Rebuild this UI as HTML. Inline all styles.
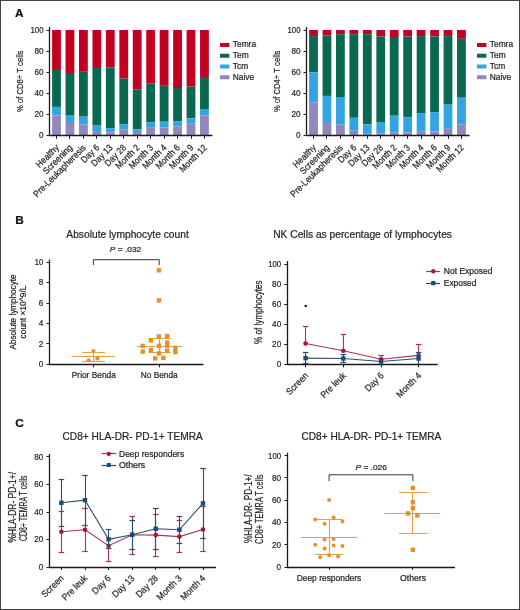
<!DOCTYPE html>
<html><head><meta charset="utf-8"><style>
html,body{margin:0;padding:0;background:#fff;}
svg{display:block;font-family:"Liberation Sans", sans-serif;will-change:transform;}
text{stroke:#262626;stroke-width:0.22px;paint-order:stroke;}
</style></head><body>
<svg width="520" height="610" viewBox="0 0 520 610">
<rect x="0" y="0" width="520" height="610" fill="#fff"/>
<text x="15" y="16.9" font-size="11.8" text-anchor="start" fill="#111" font-weight="bold" >A</text>
<text x="15.3" y="224.3" font-size="11.8" text-anchor="start" fill="#111" font-weight="bold" >B</text>
<text x="15.3" y="427" font-size="11.8" text-anchor="start" fill="#111" font-weight="bold" >C</text>
<rect x="52.10" y="30.00" width="8.80" height="40.00" fill="#c10022"/>
<rect x="52.10" y="70.00" width="8.80" height="36.90" fill="#0a6850"/>
<rect x="52.10" y="106.90" width="8.80" height="8.60" fill="#32a5e1"/>
<rect x="52.10" y="115.50" width="8.80" height="19.80" fill="#9187be"/>
<rect x="65.55" y="30.00" width="8.80" height="43.00" fill="#c10022"/>
<rect x="65.55" y="73.00" width="8.80" height="42.00" fill="#0a6850"/>
<rect x="65.55" y="115.00" width="8.80" height="7.00" fill="#32a5e1"/>
<rect x="65.55" y="122.00" width="8.80" height="13.30" fill="#9187be"/>
<rect x="79.00" y="30.00" width="8.80" height="41.75" fill="#c10022"/>
<rect x="79.00" y="71.75" width="8.80" height="44.95" fill="#0a6850"/>
<rect x="79.00" y="116.70" width="8.80" height="7.80" fill="#32a5e1"/>
<rect x="79.00" y="124.50" width="8.80" height="10.80" fill="#9187be"/>
<rect x="92.45" y="30.00" width="8.80" height="38.00" fill="#c10022"/>
<rect x="92.45" y="68.00" width="8.80" height="57.60" fill="#0a6850"/>
<rect x="92.45" y="125.60" width="8.80" height="5.40" fill="#32a5e1"/>
<rect x="92.45" y="131.00" width="8.80" height="4.30" fill="#9187be"/>
<rect x="105.90" y="30.00" width="8.80" height="37.50" fill="#c10022"/>
<rect x="105.90" y="67.50" width="8.80" height="60.60" fill="#0a6850"/>
<rect x="105.90" y="128.10" width="8.80" height="4.40" fill="#32a5e1"/>
<rect x="105.90" y="132.50" width="8.80" height="2.80" fill="#9187be"/>
<rect x="119.35" y="30.00" width="8.80" height="48.50" fill="#c10022"/>
<rect x="119.35" y="78.50" width="8.80" height="45.70" fill="#0a6850"/>
<rect x="119.35" y="124.20" width="8.80" height="5.50" fill="#32a5e1"/>
<rect x="119.35" y="129.70" width="8.80" height="5.60" fill="#9187be"/>
<rect x="132.80" y="30.00" width="8.80" height="59.60" fill="#c10022"/>
<rect x="132.80" y="89.60" width="8.80" height="39.80" fill="#0a6850"/>
<rect x="132.80" y="129.40" width="8.80" height="2.60" fill="#32a5e1"/>
<rect x="132.80" y="132.00" width="8.80" height="3.30" fill="#9187be"/>
<rect x="146.25" y="30.00" width="8.80" height="53.60" fill="#c10022"/>
<rect x="146.25" y="83.60" width="8.80" height="38.90" fill="#0a6850"/>
<rect x="146.25" y="122.50" width="8.80" height="5.30" fill="#32a5e1"/>
<rect x="146.25" y="127.80" width="8.80" height="7.50" fill="#9187be"/>
<rect x="159.70" y="30.00" width="8.80" height="55.80" fill="#c10022"/>
<rect x="159.70" y="85.80" width="8.80" height="35.90" fill="#0a6850"/>
<rect x="159.70" y="121.70" width="8.80" height="5.80" fill="#32a5e1"/>
<rect x="159.70" y="127.50" width="8.80" height="7.80" fill="#9187be"/>
<rect x="173.15" y="30.00" width="8.80" height="58.00" fill="#c10022"/>
<rect x="173.15" y="88.00" width="8.80" height="33.20" fill="#0a6850"/>
<rect x="173.15" y="121.20" width="8.80" height="5.30" fill="#32a5e1"/>
<rect x="173.15" y="126.50" width="8.80" height="8.80" fill="#9187be"/>
<rect x="186.60" y="30.00" width="8.80" height="56.50" fill="#c10022"/>
<rect x="186.60" y="86.50" width="8.80" height="31.80" fill="#0a6850"/>
<rect x="186.60" y="118.30" width="8.80" height="5.40" fill="#32a5e1"/>
<rect x="186.60" y="123.70" width="8.80" height="11.60" fill="#9187be"/>
<rect x="200.05" y="30.00" width="8.80" height="47.00" fill="#c10022"/>
<rect x="200.05" y="77.00" width="8.80" height="32.00" fill="#0a6850"/>
<rect x="200.05" y="109.00" width="8.80" height="6.50" fill="#32a5e1"/>
<rect x="200.05" y="115.50" width="8.80" height="19.80" fill="#9187be"/>
<line x1="49.5" y1="27.0" x2="49.5" y2="136" stroke="#1a1a1a" stroke-width="1.3"/>
<line x1="49.0" y1="135.5" x2="212.5" y2="135.5" stroke="#1a1a1a" stroke-width="1.3"/>
<line x1="46.5" y1="135.5" x2="49.5" y2="135.5" stroke="#1a1a1a" stroke-width="1"/>
<text x="43.5" y="138.0" font-size="8.9" text-anchor="end" fill="#262626" textLength="4.55" lengthAdjust="spacingAndGlyphs">0</text>
<line x1="46.5" y1="114.5" x2="49.5" y2="114.5" stroke="#1a1a1a" stroke-width="1"/>
<text x="43.5" y="116.94000000000001" font-size="8.9" text-anchor="end" fill="#262626" textLength="9.10" lengthAdjust="spacingAndGlyphs">20</text>
<line x1="46.5" y1="93.5" x2="49.5" y2="93.5" stroke="#1a1a1a" stroke-width="1"/>
<text x="43.5" y="95.88000000000001" font-size="8.9" text-anchor="end" fill="#262626" textLength="9.10" lengthAdjust="spacingAndGlyphs">40</text>
<line x1="46.5" y1="72.5" x2="49.5" y2="72.5" stroke="#1a1a1a" stroke-width="1"/>
<text x="43.5" y="74.82000000000002" font-size="8.9" text-anchor="end" fill="#262626" textLength="9.10" lengthAdjust="spacingAndGlyphs">60</text>
<line x1="46.5" y1="51.5" x2="49.5" y2="51.5" stroke="#1a1a1a" stroke-width="1"/>
<text x="43.5" y="53.76000000000002" font-size="8.9" text-anchor="end" fill="#262626" textLength="9.10" lengthAdjust="spacingAndGlyphs">80</text>
<line x1="46.5" y1="30.5" x2="49.5" y2="30.5" stroke="#1a1a1a" stroke-width="1"/>
<text x="43.5" y="32.70000000000002" font-size="8.9" text-anchor="end" fill="#262626" textLength="13.00" lengthAdjust="spacingAndGlyphs">100</text>
<line x1="56.5" y1="135.6" x2="56.5" y2="138.8" stroke="#1a1a1a" stroke-width="1"/>
<text font-size="9.2" text-anchor="end" fill="#262626" transform="translate(59.6,148.2) rotate(-45)" textLength="28.31" lengthAdjust="spacingAndGlyphs">Healthy</text>
<line x1="69.5" y1="135.6" x2="69.5" y2="138.8" stroke="#1a1a1a" stroke-width="1"/>
<text font-size="9.2" text-anchor="end" fill="#262626" transform="translate(73.05,148.2) rotate(-45)" textLength="37.6" lengthAdjust="spacingAndGlyphs">Screening</text>
<line x1="83.5" y1="135.6" x2="83.5" y2="138.8" stroke="#1a1a1a" stroke-width="1"/>
<text font-size="9.2" text-anchor="end" fill="#262626" transform="translate(86.5,148.2) rotate(-45)" textLength="70.09" lengthAdjust="spacingAndGlyphs">Pre-Leukapheresis</text>
<line x1="96.5" y1="135.6" x2="96.5" y2="138.8" stroke="#1a1a1a" stroke-width="1"/>
<text font-size="9.2" text-anchor="end" fill="#262626" transform="translate(99.94999999999999,148.2) rotate(-45)" textLength="21.81" lengthAdjust="spacingAndGlyphs">Day 6</text>
<line x1="110.5" y1="135.6" x2="110.5" y2="138.8" stroke="#1a1a1a" stroke-width="1"/>
<text font-size="9.2" text-anchor="end" fill="#262626" transform="translate(113.39999999999999,148.2) rotate(-45)" textLength="26.46" lengthAdjust="spacingAndGlyphs">Day 13</text>
<line x1="123.5" y1="135.6" x2="123.5" y2="138.8" stroke="#1a1a1a" stroke-width="1"/>
<text font-size="9.2" text-anchor="end" fill="#262626" transform="translate(126.85,148.2) rotate(-45)" textLength="26.46" lengthAdjust="spacingAndGlyphs">Day 28</text>
<line x1="137.5" y1="135.6" x2="137.5" y2="138.8" stroke="#1a1a1a" stroke-width="1"/>
<text font-size="9.2" text-anchor="end" fill="#262626" transform="translate(140.29999999999998,148.2) rotate(-45)" textLength="30.17" lengthAdjust="spacingAndGlyphs">Month 2</text>
<line x1="150.5" y1="135.6" x2="150.5" y2="138.8" stroke="#1a1a1a" stroke-width="1"/>
<text font-size="9.2" text-anchor="end" fill="#262626" transform="translate(153.74999999999997,148.2) rotate(-45)" textLength="30.17" lengthAdjust="spacingAndGlyphs">Month 3</text>
<line x1="164.5" y1="135.6" x2="164.5" y2="138.8" stroke="#1a1a1a" stroke-width="1"/>
<text font-size="9.2" text-anchor="end" fill="#262626" transform="translate(167.2,148.2) rotate(-45)" textLength="30.17" lengthAdjust="spacingAndGlyphs">Month 4</text>
<line x1="177.5" y1="135.6" x2="177.5" y2="138.8" stroke="#1a1a1a" stroke-width="1"/>
<text font-size="9.2" text-anchor="end" fill="#262626" transform="translate(180.65,148.2) rotate(-45)" textLength="30.17" lengthAdjust="spacingAndGlyphs">Month 6</text>
<line x1="191.5" y1="135.6" x2="191.5" y2="138.8" stroke="#1a1a1a" stroke-width="1"/>
<text font-size="9.2" text-anchor="end" fill="#262626" transform="translate(194.1,148.2) rotate(-45)" textLength="30.17" lengthAdjust="spacingAndGlyphs">Month 9</text>
<line x1="204.5" y1="135.6" x2="204.5" y2="138.8" stroke="#1a1a1a" stroke-width="1"/>
<text font-size="9.2" text-anchor="end" fill="#262626" transform="translate(207.54999999999998,148.2) rotate(-45)" textLength="34.81" lengthAdjust="spacingAndGlyphs">Month 12</text>
<text font-size="9.8" text-anchor="middle" fill="#262626" transform="translate(23.4,81.3) rotate(-90)" textLength="61.5" lengthAdjust="spacingAndGlyphs">% of CD8+ T cells</text>
<rect x="220.00" y="43.00" width="9.40" height="4.00" fill="#c10022"/>
<text x="232.8" y="47.4" font-size="8.4" text-anchor="start" fill="#262626" >Temra</text>
<rect x="220.00" y="53.75" width="9.40" height="4.00" fill="#0a6850"/>
<text x="232.8" y="58.15" font-size="8.4" text-anchor="start" fill="#262626" >Tem</text>
<rect x="220.00" y="64.50" width="9.40" height="4.00" fill="#32a5e1"/>
<text x="232.8" y="68.9" font-size="8.4" text-anchor="start" fill="#262626" >Tcm</text>
<rect x="220.00" y="75.25" width="9.40" height="4.00" fill="#9187be"/>
<text x="232.8" y="79.65" font-size="8.4" text-anchor="start" fill="#262626" >Naive</text>
<rect x="309.10" y="30.00" width="8.80" height="6.10" fill="#c10022"/>
<rect x="309.10" y="36.10" width="8.80" height="36.20" fill="#0a6850"/>
<rect x="309.10" y="72.30" width="8.80" height="30.10" fill="#32a5e1"/>
<rect x="309.10" y="102.40" width="8.80" height="32.90" fill="#9187be"/>
<rect x="322.55" y="30.00" width="8.80" height="5.40" fill="#c10022"/>
<rect x="322.55" y="35.40" width="8.80" height="60.50" fill="#0a6850"/>
<rect x="322.55" y="95.90" width="8.80" height="26.10" fill="#32a5e1"/>
<rect x="322.55" y="122.00" width="8.80" height="13.30" fill="#9187be"/>
<rect x="336.00" y="30.00" width="8.80" height="4.20" fill="#c10022"/>
<rect x="336.00" y="34.20" width="8.80" height="62.80" fill="#0a6850"/>
<rect x="336.00" y="97.00" width="8.80" height="27.30" fill="#32a5e1"/>
<rect x="336.00" y="124.30" width="8.80" height="11.00" fill="#9187be"/>
<rect x="349.45" y="30.00" width="8.80" height="4.20" fill="#c10022"/>
<rect x="349.45" y="34.20" width="8.80" height="83.60" fill="#0a6850"/>
<rect x="349.45" y="117.80" width="8.80" height="13.00" fill="#32a5e1"/>
<rect x="349.45" y="130.80" width="8.80" height="4.50" fill="#9187be"/>
<rect x="362.90" y="30.00" width="8.80" height="4.20" fill="#c10022"/>
<rect x="362.90" y="34.20" width="8.80" height="90.10" fill="#0a6850"/>
<rect x="362.90" y="124.30" width="8.80" height="9.50" fill="#32a5e1"/>
<rect x="362.90" y="133.80" width="8.80" height="1.50" fill="#9187be"/>
<rect x="376.35" y="30.00" width="8.80" height="6.50" fill="#c10022"/>
<rect x="376.35" y="36.50" width="8.80" height="85.50" fill="#0a6850"/>
<rect x="376.35" y="122.00" width="8.80" height="11.30" fill="#32a5e1"/>
<rect x="376.35" y="133.30" width="8.80" height="2.00" fill="#9187be"/>
<rect x="389.80" y="30.00" width="8.80" height="7.00" fill="#c10022"/>
<rect x="389.80" y="37.00" width="8.80" height="78.70" fill="#0a6850"/>
<rect x="389.80" y="115.70" width="8.80" height="16.60" fill="#32a5e1"/>
<rect x="389.80" y="132.30" width="8.80" height="3.00" fill="#9187be"/>
<rect x="403.25" y="30.00" width="8.80" height="6.50" fill="#c10022"/>
<rect x="403.25" y="36.50" width="8.80" height="80.70" fill="#0a6850"/>
<rect x="403.25" y="117.20" width="8.80" height="15.10" fill="#32a5e1"/>
<rect x="403.25" y="132.30" width="8.80" height="3.00" fill="#9187be"/>
<rect x="416.70" y="30.00" width="8.80" height="6.10" fill="#c10022"/>
<rect x="416.70" y="36.10" width="8.80" height="77.00" fill="#0a6850"/>
<rect x="416.70" y="113.10" width="8.80" height="18.70" fill="#32a5e1"/>
<rect x="416.70" y="131.80" width="8.80" height="3.50" fill="#9187be"/>
<rect x="430.15" y="30.00" width="8.80" height="6.50" fill="#c10022"/>
<rect x="430.15" y="36.50" width="8.80" height="75.70" fill="#0a6850"/>
<rect x="430.15" y="112.20" width="8.80" height="19.20" fill="#32a5e1"/>
<rect x="430.15" y="131.40" width="8.80" height="3.90" fill="#9187be"/>
<rect x="443.60" y="30.00" width="8.80" height="6.10" fill="#c10022"/>
<rect x="443.60" y="36.10" width="8.80" height="68.50" fill="#0a6850"/>
<rect x="443.60" y="104.60" width="8.80" height="24.20" fill="#32a5e1"/>
<rect x="443.60" y="128.80" width="8.80" height="6.50" fill="#9187be"/>
<rect x="457.05" y="30.00" width="8.80" height="8.80" fill="#c10022"/>
<rect x="457.05" y="38.80" width="8.80" height="58.90" fill="#0a6850"/>
<rect x="457.05" y="97.70" width="8.80" height="26.60" fill="#32a5e1"/>
<rect x="457.05" y="124.30" width="8.80" height="11.00" fill="#9187be"/>
<line x1="306.5" y1="27.0" x2="306.5" y2="136" stroke="#1a1a1a" stroke-width="1.3"/>
<line x1="306.0" y1="135.5" x2="469.5" y2="135.5" stroke="#1a1a1a" stroke-width="1.3"/>
<line x1="303.5" y1="135.5" x2="306.5" y2="135.5" stroke="#1a1a1a" stroke-width="1"/>
<text x="300.5" y="138.0" font-size="8.9" text-anchor="end" fill="#262626" textLength="4.55" lengthAdjust="spacingAndGlyphs">0</text>
<line x1="303.5" y1="114.5" x2="306.5" y2="114.5" stroke="#1a1a1a" stroke-width="1"/>
<text x="300.5" y="116.94000000000001" font-size="8.9" text-anchor="end" fill="#262626" textLength="9.10" lengthAdjust="spacingAndGlyphs">20</text>
<line x1="303.5" y1="93.5" x2="306.5" y2="93.5" stroke="#1a1a1a" stroke-width="1"/>
<text x="300.5" y="95.88000000000001" font-size="8.9" text-anchor="end" fill="#262626" textLength="9.10" lengthAdjust="spacingAndGlyphs">40</text>
<line x1="303.5" y1="72.5" x2="306.5" y2="72.5" stroke="#1a1a1a" stroke-width="1"/>
<text x="300.5" y="74.82000000000002" font-size="8.9" text-anchor="end" fill="#262626" textLength="9.10" lengthAdjust="spacingAndGlyphs">60</text>
<line x1="303.5" y1="51.5" x2="306.5" y2="51.5" stroke="#1a1a1a" stroke-width="1"/>
<text x="300.5" y="53.76000000000002" font-size="8.9" text-anchor="end" fill="#262626" textLength="9.10" lengthAdjust="spacingAndGlyphs">80</text>
<line x1="303.5" y1="30.5" x2="306.5" y2="30.5" stroke="#1a1a1a" stroke-width="1"/>
<text x="300.5" y="32.70000000000002" font-size="8.9" text-anchor="end" fill="#262626" textLength="13.00" lengthAdjust="spacingAndGlyphs">100</text>
<line x1="313.5" y1="135.6" x2="313.5" y2="138.8" stroke="#1a1a1a" stroke-width="1"/>
<text font-size="9.2" text-anchor="end" fill="#262626" transform="translate(316.6,148.2) rotate(-45)" textLength="28.31" lengthAdjust="spacingAndGlyphs">Healthy</text>
<line x1="326.5" y1="135.6" x2="326.5" y2="138.8" stroke="#1a1a1a" stroke-width="1"/>
<text font-size="9.2" text-anchor="end" fill="#262626" transform="translate(330.05,148.2) rotate(-45)" textLength="37.6" lengthAdjust="spacingAndGlyphs">Screening</text>
<line x1="340.5" y1="135.6" x2="340.5" y2="138.8" stroke="#1a1a1a" stroke-width="1"/>
<text font-size="9.2" text-anchor="end" fill="#262626" transform="translate(343.5,148.2) rotate(-45)" textLength="70.09" lengthAdjust="spacingAndGlyphs">Pre-Leukapheresis</text>
<line x1="353.5" y1="135.6" x2="353.5" y2="138.8" stroke="#1a1a1a" stroke-width="1"/>
<text font-size="9.2" text-anchor="end" fill="#262626" transform="translate(356.95000000000005,148.2) rotate(-45)" textLength="21.81" lengthAdjust="spacingAndGlyphs">Day 6</text>
<line x1="367.5" y1="135.6" x2="367.5" y2="138.8" stroke="#1a1a1a" stroke-width="1"/>
<text font-size="9.2" text-anchor="end" fill="#262626" transform="translate(370.40000000000003,148.2) rotate(-45)" textLength="26.46" lengthAdjust="spacingAndGlyphs">Day 13</text>
<line x1="380.5" y1="135.6" x2="380.5" y2="138.8" stroke="#1a1a1a" stroke-width="1"/>
<text font-size="9.2" text-anchor="end" fill="#262626" transform="translate(383.85,148.2) rotate(-45)" textLength="26.46" lengthAdjust="spacingAndGlyphs">Day 28</text>
<line x1="394.5" y1="135.6" x2="394.5" y2="138.8" stroke="#1a1a1a" stroke-width="1"/>
<text font-size="9.2" text-anchor="end" fill="#262626" transform="translate(397.3,148.2) rotate(-45)" textLength="30.17" lengthAdjust="spacingAndGlyphs">Month 2</text>
<line x1="407.5" y1="135.6" x2="407.5" y2="138.8" stroke="#1a1a1a" stroke-width="1"/>
<text font-size="9.2" text-anchor="end" fill="#262626" transform="translate(410.75,148.2) rotate(-45)" textLength="30.17" lengthAdjust="spacingAndGlyphs">Month 3</text>
<line x1="421.5" y1="135.6" x2="421.5" y2="138.8" stroke="#1a1a1a" stroke-width="1"/>
<text font-size="9.2" text-anchor="end" fill="#262626" transform="translate(424.20000000000005,148.2) rotate(-45)" textLength="30.17" lengthAdjust="spacingAndGlyphs">Month 4</text>
<line x1="434.5" y1="135.6" x2="434.5" y2="138.8" stroke="#1a1a1a" stroke-width="1"/>
<text font-size="9.2" text-anchor="end" fill="#262626" transform="translate(437.65000000000003,148.2) rotate(-45)" textLength="30.17" lengthAdjust="spacingAndGlyphs">Month 6</text>
<line x1="448.5" y1="135.6" x2="448.5" y2="138.8" stroke="#1a1a1a" stroke-width="1"/>
<text font-size="9.2" text-anchor="end" fill="#262626" transform="translate(451.1,148.2) rotate(-45)" textLength="30.17" lengthAdjust="spacingAndGlyphs">Month 9</text>
<line x1="461.5" y1="135.6" x2="461.5" y2="138.8" stroke="#1a1a1a" stroke-width="1"/>
<text font-size="9.2" text-anchor="end" fill="#262626" transform="translate(464.55,148.2) rotate(-45)" textLength="34.81" lengthAdjust="spacingAndGlyphs">Month 12</text>
<text font-size="9.8" text-anchor="middle" fill="#262626" transform="translate(280.4,81.3) rotate(-90)" textLength="61.5" lengthAdjust="spacingAndGlyphs">% of CD4+ T cells</text>
<rect x="477.00" y="43.00" width="9.40" height="4.00" fill="#c10022"/>
<text x="489.8" y="47.4" font-size="8.4" text-anchor="start" fill="#262626" >Temra</text>
<rect x="477.00" y="53.75" width="9.40" height="4.00" fill="#0a6850"/>
<text x="489.8" y="58.15" font-size="8.4" text-anchor="start" fill="#262626" >Tem</text>
<rect x="477.00" y="64.50" width="9.40" height="4.00" fill="#32a5e1"/>
<text x="489.8" y="68.9" font-size="8.4" text-anchor="start" fill="#262626" >Tcm</text>
<rect x="477.00" y="75.25" width="9.40" height="4.00" fill="#9187be"/>
<text x="489.8" y="79.65" font-size="8.4" text-anchor="start" fill="#262626" >Naive</text>
<text x="66.3" y="237.7" font-size="10.2" text-anchor="start" fill="#262626" textLength="122.5" lengthAdjust="spacingAndGlyphs" >Absolute lymphocyte count</text>
<text x="125.5" y="252.3" font-size="8" textLength="31.5" lengthAdjust="spacingAndGlyphs" text-anchor="middle" fill="#262626"><tspan font-style="italic">P</tspan> = .032</text>
<path d="M93.4,265 V259.7 H159.2 V265" fill="none" stroke="#333" stroke-width="1"/>
<line x1="49.5" y1="259.6" x2="49.5" y2="364.9" stroke="#1a1a1a" stroke-width="1.3"/>
<line x1="49" y1="364.5" x2="203.5" y2="364.5" stroke="#1a1a1a" stroke-width="1.3"/>
<line x1="46.5" y1="364.5" x2="49.5" y2="364.5" stroke="#1a1a1a" stroke-width="1"/>
<text x="43.2" y="366.90000000000003" font-size="8.9" text-anchor="end" fill="#262626" textLength="4.55" lengthAdjust="spacingAndGlyphs">0</text>
<line x1="46.5" y1="343.5" x2="49.5" y2="343.5" stroke="#1a1a1a" stroke-width="1"/>
<text x="43.2" y="346.54" font-size="8.9" text-anchor="end" fill="#262626" textLength="4.55" lengthAdjust="spacingAndGlyphs">2</text>
<line x1="46.5" y1="323.5" x2="49.5" y2="323.5" stroke="#1a1a1a" stroke-width="1"/>
<text x="43.2" y="326.18000000000006" font-size="8.9" text-anchor="end" fill="#262626" textLength="4.55" lengthAdjust="spacingAndGlyphs">4</text>
<line x1="46.5" y1="303.5" x2="49.5" y2="303.5" stroke="#1a1a1a" stroke-width="1"/>
<text x="43.2" y="305.82000000000005" font-size="8.9" text-anchor="end" fill="#262626" textLength="4.55" lengthAdjust="spacingAndGlyphs">6</text>
<line x1="46.5" y1="282.5" x2="49.5" y2="282.5" stroke="#1a1a1a" stroke-width="1"/>
<text x="43.2" y="285.46000000000004" font-size="8.9" text-anchor="end" fill="#262626" textLength="4.55" lengthAdjust="spacingAndGlyphs">8</text>
<line x1="46.5" y1="262.5" x2="49.5" y2="262.5" stroke="#1a1a1a" stroke-width="1"/>
<text x="43.2" y="265.1" font-size="8.9" text-anchor="end" fill="#262626" textLength="8.45" lengthAdjust="spacingAndGlyphs">10</text>
<line x1="93.5" y1="364.3" x2="93.5" y2="367.3" stroke="#1a1a1a" stroke-width="1"/>
<line x1="159.5" y1="364.3" x2="159.5" y2="367.3" stroke="#1a1a1a" stroke-width="1"/>
<text x="93.8" y="377.8" font-size="8.3" text-anchor="middle" fill="#262626" textLength="44" lengthAdjust="spacingAndGlyphs" >Prior Benda</text>
<text x="159.2" y="377.8" font-size="8.3" text-anchor="middle" fill="#262626" >No Benda</text>
<text font-size="9.6" text-anchor="middle" fill="#262626" transform="translate(16.3,312) rotate(-90)" textLength="75" lengthAdjust="spacingAndGlyphs">Absolute lymphocyte</text>
<text font-size="9.6" text-anchor="middle" fill="#262626" transform="translate(26.4,312) rotate(-90)" textLength="53" lengthAdjust="spacingAndGlyphs">count ×10^9/L</text>
<line x1="71.8" y1="356.5" x2="115.2" y2="356.5" stroke="#e3a048" stroke-width="1.1"/>
<line x1="82.2" y1="352.5" x2="105" y2="352.5" stroke="#e3a048" stroke-width="1.1"/>
<line x1="82.2" y1="361.5" x2="105" y2="361.5" stroke="#e3a048" stroke-width="1.1"/>
<line x1="93.5" y1="352" x2="93.5" y2="361.9" stroke="#e3a048" stroke-width="1.1"/>
<circle cx="93.4" cy="350.9" r="2" fill="#e3922a"/>
<circle cx="88.7" cy="360.3" r="2" fill="#e3922a"/>
<rect x="95.40" y="356.30" width="4.00" height="4.00" fill="#e3922a"/>
<line x1="136.9" y1="346.5" x2="182.1" y2="346.5" stroke="#e3a048" stroke-width="1.1"/>
<line x1="148.5" y1="338.5" x2="170.6" y2="338.5" stroke="#e3a048" stroke-width="1.1"/>
<line x1="148.5" y1="352.5" x2="170.6" y2="352.5" stroke="#e3a048" stroke-width="1.1"/>
<line x1="159.5" y1="338.2" x2="159.5" y2="352.3" stroke="#e3a048" stroke-width="1.1"/>
<rect x="156.80" y="268.10" width="4.40" height="4.40" fill="#e3922a"/>
<rect x="156.80" y="298.20" width="4.40" height="4.40" fill="#e3922a"/>
<rect x="156.60" y="334.30" width="4.40" height="4.40" fill="#e3922a"/>
<rect x="165.00" y="333.80" width="4.40" height="4.40" fill="#e3922a"/>
<rect x="148.70" y="338.20" width="4.40" height="4.40" fill="#e3922a"/>
<rect x="165.00" y="340.30" width="4.40" height="4.40" fill="#e3922a"/>
<rect x="140.50" y="343.70" width="4.40" height="4.40" fill="#e3922a"/>
<rect x="156.80" y="343.70" width="4.40" height="4.40" fill="#e3922a"/>
<rect x="165.00" y="343.40" width="4.40" height="4.40" fill="#e3922a"/>
<rect x="173.20" y="345.60" width="4.40" height="4.40" fill="#e3922a"/>
<rect x="173.20" y="349.90" width="4.40" height="4.40" fill="#e3922a"/>
<rect x="140.50" y="349.40" width="4.40" height="4.40" fill="#e3922a"/>
<rect x="148.70" y="347.80" width="4.40" height="4.40" fill="#e3922a"/>
<rect x="165.00" y="348.50" width="4.40" height="4.40" fill="#e3922a"/>
<rect x="156.80" y="351.20" width="4.40" height="4.40" fill="#e3922a"/>
<rect x="153.00" y="356.20" width="4.40" height="4.40" fill="#e3922a"/>
<rect x="161.20" y="355.70" width="4.40" height="4.40" fill="#e3922a"/>
<text x="273.2" y="237.8" font-size="10.2" text-anchor="start" fill="#262626" textLength="178.8" lengthAdjust="spacingAndGlyphs" >NK Cells as percentage of lymphocytes</text>
<line x1="287.5" y1="261.0" x2="287.5" y2="364.9" stroke="#1a1a1a" stroke-width="1.3"/>
<line x1="287" y1="364.5" x2="437.8" y2="364.5" stroke="#1a1a1a" stroke-width="1.3"/>
<line x1="284.3" y1="364.5" x2="287.5" y2="364.5" stroke="#1a1a1a" stroke-width="1"/>
<text x="281.2" y="367.2" font-size="8.9" text-anchor="end" fill="#262626" textLength="4.55" lengthAdjust="spacingAndGlyphs">0</text>
<line x1="284.3" y1="344.5" x2="287.5" y2="344.5" stroke="#1a1a1a" stroke-width="1"/>
<text x="281.2" y="347.13" font-size="8.9" text-anchor="end" fill="#262626" textLength="9.10" lengthAdjust="spacingAndGlyphs">20</text>
<line x1="284.3" y1="324.5" x2="287.5" y2="324.5" stroke="#1a1a1a" stroke-width="1"/>
<text x="281.2" y="327.06" font-size="8.9" text-anchor="end" fill="#262626" textLength="9.10" lengthAdjust="spacingAndGlyphs">40</text>
<line x1="284.3" y1="304.5" x2="287.5" y2="304.5" stroke="#1a1a1a" stroke-width="1"/>
<text x="281.2" y="306.99" font-size="8.9" text-anchor="end" fill="#262626" textLength="9.10" lengthAdjust="spacingAndGlyphs">60</text>
<line x1="284.3" y1="284.5" x2="287.5" y2="284.5" stroke="#1a1a1a" stroke-width="1"/>
<text x="281.2" y="286.92" font-size="8.9" text-anchor="end" fill="#262626" textLength="9.10" lengthAdjust="spacingAndGlyphs">80</text>
<line x1="284.3" y1="264.5" x2="287.5" y2="264.5" stroke="#1a1a1a" stroke-width="1"/>
<text x="281.2" y="266.84999999999997" font-size="8.9" text-anchor="end" fill="#262626" textLength="13.00" lengthAdjust="spacingAndGlyphs">100</text>
<text font-size="10" text-anchor="middle" fill="#262626" transform="translate(261.6,312.2) rotate(-90)" textLength="63.5" lengthAdjust="spacingAndGlyphs">% of lymphocytes</text>
<line x1="305.5" y1="364.4" x2="305.5" y2="367.4" stroke="#1a1a1a" stroke-width="1"/>
<text font-size="9.2" text-anchor="end" fill="#262626" transform="translate(308.90000000000003,376.2) rotate(-45)" textLength="27.25" lengthAdjust="spacingAndGlyphs">Screen</text>
<line x1="343.5" y1="364.4" x2="343.5" y2="367.4" stroke="#1a1a1a" stroke-width="1"/>
<text font-size="9.2" text-anchor="end" fill="#262626" transform="translate(346.6,376.2) rotate(-45)" textLength="31.55" lengthAdjust="spacingAndGlyphs">Pre leuk</text>
<line x1="381.5" y1="364.4" x2="381.5" y2="367.4" stroke="#1a1a1a" stroke-width="1"/>
<text font-size="9.2" text-anchor="end" fill="#262626" transform="translate(384.40000000000003,376.2) rotate(-45)" textLength="22.47" lengthAdjust="spacingAndGlyphs">Day 6</text>
<line x1="418.5" y1="364.4" x2="418.5" y2="367.4" stroke="#1a1a1a" stroke-width="1"/>
<text font-size="9.2" text-anchor="end" fill="#262626" transform="translate(421.90000000000003,376.2) rotate(-45)" textLength="31.07" lengthAdjust="spacingAndGlyphs">Month 4</text>
<line x1="305.5" y1="343.5" x2="305.5" y2="326.3" stroke="#aa3259" stroke-width="1.1"/>
<line x1="302.8" y1="326.5" x2="308.40000000000003" y2="326.5" stroke="#aa3259" stroke-width="1.2"/>
<line x1="343.5" y1="350.8" x2="343.5" y2="334.4" stroke="#aa3259" stroke-width="1.1"/>
<line x1="340.5" y1="334.5" x2="346.1" y2="334.5" stroke="#aa3259" stroke-width="1.2"/>
<line x1="381.5" y1="359.2" x2="381.5" y2="355.8" stroke="#aa3259" stroke-width="1.1"/>
<line x1="378.3" y1="355.5" x2="383.90000000000003" y2="355.5" stroke="#aa3259" stroke-width="1.2"/>
<line x1="418.5" y1="355.4" x2="418.5" y2="344.3" stroke="#aa3259" stroke-width="1.1"/>
<line x1="415.8" y1="344.5" x2="421.40000000000003" y2="344.5" stroke="#aa3259" stroke-width="1.2"/>
<polyline points="305.6,343.5 343.3,350.8 381.1,359.2 418.6,355.4" fill="none" stroke="#aa3259" stroke-width="1.1"/>
<circle cx="305.6" cy="343.5" r="2.3" fill="#b01040"/>
<circle cx="343.3" cy="350.8" r="2.3" fill="#b01040"/>
<circle cx="381.1" cy="359.2" r="2.3" fill="#b01040"/>
<circle cx="418.6" cy="355.4" r="2.3" fill="#b01040"/>
<line x1="305.5" y1="358.1" x2="305.5" y2="352.7" stroke="#2e4d6c" stroke-width="1.1"/>
<line x1="302.8" y1="352.5" x2="308.40000000000003" y2="352.5" stroke="#2e4d6c" stroke-width="1.2"/>
<line x1="305.5" y1="358.1" x2="305.5" y2="363.7" stroke="#2e4d6c" stroke-width="1.1"/>
<line x1="302.8" y1="363.5" x2="308.40000000000003" y2="363.5" stroke="#2e4d6c" stroke-width="1.2"/>
<line x1="343.5" y1="358.5" x2="343.5" y2="354.2" stroke="#2e4d6c" stroke-width="1.1"/>
<line x1="340.5" y1="354.5" x2="346.1" y2="354.5" stroke="#2e4d6c" stroke-width="1.2"/>
<line x1="343.5" y1="358.5" x2="343.5" y2="362.7" stroke="#2e4d6c" stroke-width="1.1"/>
<line x1="340.5" y1="362.5" x2="346.1" y2="362.5" stroke="#2e4d6c" stroke-width="1.2"/>
<line x1="418.5" y1="358.5" x2="418.5" y2="352" stroke="#2e4d6c" stroke-width="1.1"/>
<line x1="415.8" y1="352.5" x2="421.40000000000003" y2="352.5" stroke="#2e4d6c" stroke-width="1.2"/>
<line x1="418.5" y1="358.5" x2="418.5" y2="364.4" stroke="#2e4d6c" stroke-width="1.1"/>
<polyline points="305.6,358.1 343.3,358.5 381.1,361.5 418.6,358.5" fill="none" stroke="#2e4d6c" stroke-width="1.1"/>
<rect x="303.40" y="355.90" width="4.40" height="4.40" fill="#1d4a78"/>
<rect x="341.10" y="356.30" width="4.40" height="4.40" fill="#1d4a78"/>
<rect x="378.90" y="359.30" width="4.40" height="4.40" fill="#1d4a78"/>
<rect x="416.40" y="356.30" width="4.40" height="4.40" fill="#1d4a78"/>
<circle cx="305.7" cy="306" r="1.3" fill="#222"/>
<line x1="426.2" y1="271.5" x2="440" y2="271.5" stroke="#aa3259" stroke-width="1.2"/>
<circle cx="433.3" cy="271.2" r="2.2" fill="#b01040"/>
<text x="443.8" y="274.3" font-size="8.4" text-anchor="start" fill="#262626" textLength="48.8" lengthAdjust="spacingAndGlyphs" >Not Exposed</text>
<line x1="426.2" y1="283.5" x2="440" y2="283.5" stroke="#2e4d6c" stroke-width="1.2"/>
<rect x="431.20" y="281.00" width="4.20" height="4.20" fill="#1d4a78"/>
<text x="443.8" y="286.1" font-size="8.4" text-anchor="start" fill="#262626" >Exposed</text>
<text x="62.5" y="439.9" font-size="10.1" text-anchor="start" fill="#262626" textLength="140.3" lengthAdjust="spacingAndGlyphs" >CD8+ HLA-DR- PD-1+ TEMRA</text>
<line x1="49.5" y1="454.0" x2="49.5" y2="567.7" stroke="#1a1a1a" stroke-width="1.3"/>
<line x1="49" y1="567.5" x2="216" y2="567.5" stroke="#1a1a1a" stroke-width="1.3"/>
<line x1="46.5" y1="567.5" x2="49.5" y2="567.5" stroke="#1a1a1a" stroke-width="1"/>
<text x="43.4" y="570.0" font-size="9.4" text-anchor="end" fill="#262626" textLength="4.55" lengthAdjust="spacingAndGlyphs">0</text>
<line x1="46.5" y1="539.5" x2="49.5" y2="539.5" stroke="#1a1a1a" stroke-width="1"/>
<text x="43.4" y="542.45" font-size="9.4" text-anchor="end" fill="#262626" textLength="9.10" lengthAdjust="spacingAndGlyphs">20</text>
<line x1="46.5" y1="512.5" x2="49.5" y2="512.5" stroke="#1a1a1a" stroke-width="1"/>
<text x="43.4" y="514.9" font-size="9.4" text-anchor="end" fill="#262626" textLength="9.10" lengthAdjust="spacingAndGlyphs">40</text>
<line x1="46.5" y1="484.5" x2="49.5" y2="484.5" stroke="#1a1a1a" stroke-width="1"/>
<text x="43.4" y="487.35" font-size="9.4" text-anchor="end" fill="#262626" textLength="9.10" lengthAdjust="spacingAndGlyphs">60</text>
<line x1="46.5" y1="456.5" x2="49.5" y2="456.5" stroke="#1a1a1a" stroke-width="1"/>
<text x="43.4" y="459.8" font-size="9.4" text-anchor="end" fill="#262626" textLength="9.10" lengthAdjust="spacingAndGlyphs">80</text>
<line x1="61.5" y1="567.1" x2="61.5" y2="570" stroke="#1a1a1a" stroke-width="1"/>
<text font-size="9.2" text-anchor="end" fill="#262626" transform="translate(64.3,578.8) rotate(-45)" textLength="27.25" lengthAdjust="spacingAndGlyphs">Screen</text>
<line x1="85.5" y1="567.1" x2="85.5" y2="570" stroke="#1a1a1a" stroke-width="1"/>
<text font-size="9.2" text-anchor="end" fill="#262626" transform="translate(87.9,578.8) rotate(-45)" textLength="31.55" lengthAdjust="spacingAndGlyphs">Pre leuk</text>
<line x1="108.5" y1="567.1" x2="108.5" y2="570" stroke="#1a1a1a" stroke-width="1"/>
<text font-size="9.2" text-anchor="end" fill="#262626" transform="translate(111.5,578.8) rotate(-45)" textLength="22.47" lengthAdjust="spacingAndGlyphs">Day 6</text>
<line x1="132.5" y1="567.1" x2="132.5" y2="570" stroke="#1a1a1a" stroke-width="1"/>
<text font-size="9.2" text-anchor="end" fill="#262626" transform="translate(135.10000000000002,578.8) rotate(-45)" textLength="27.25" lengthAdjust="spacingAndGlyphs">Day 13</text>
<line x1="155.5" y1="567.1" x2="155.5" y2="570" stroke="#1a1a1a" stroke-width="1"/>
<text font-size="9.2" text-anchor="end" fill="#262626" transform="translate(158.70000000000002,578.8) rotate(-45)" textLength="27.25" lengthAdjust="spacingAndGlyphs">Day 28</text>
<line x1="179.5" y1="567.1" x2="179.5" y2="570" stroke="#1a1a1a" stroke-width="1"/>
<text font-size="9.2" text-anchor="end" fill="#262626" transform="translate(182.3,578.8) rotate(-45)" textLength="31.07" lengthAdjust="spacingAndGlyphs">Month 3</text>
<line x1="203.5" y1="567.1" x2="203.5" y2="570" stroke="#1a1a1a" stroke-width="1"/>
<text font-size="9.2" text-anchor="end" fill="#262626" transform="translate(205.90000000000003,578.8) rotate(-45)" textLength="31.07" lengthAdjust="spacingAndGlyphs">Month 4</text>
<text font-size="10.4" text-anchor="middle" fill="#262626" transform="translate(15.6,507.2) rotate(-90)" textLength="70.5" lengthAdjust="spacingAndGlyphs">%HLA-DR- PD-1+/</text>
<text font-size="10.4" text-anchor="middle" fill="#262626" transform="translate(26.6,508.2) rotate(-90)" textLength="65.5" lengthAdjust="spacingAndGlyphs">CD8+ TEMRA T cells</text>
<line x1="61.5" y1="531.7" x2="61.5" y2="511" stroke="#aa3259" stroke-width="1.1"/>
<line x1="58.6" y1="511.5" x2="64.2" y2="511.5" stroke="#aa3259" stroke-width="1.2"/>
<line x1="61.5" y1="531.7" x2="61.5" y2="552.4" stroke="#aa3259" stroke-width="1.1"/>
<line x1="58.6" y1="552.5" x2="64.2" y2="552.5" stroke="#aa3259" stroke-width="1.2"/>
<line x1="85.5" y1="529.7" x2="85.5" y2="508" stroke="#aa3259" stroke-width="1.1"/>
<line x1="82.2" y1="508.5" x2="87.8" y2="508.5" stroke="#aa3259" stroke-width="1.2"/>
<line x1="85.5" y1="529.7" x2="85.5" y2="551.8" stroke="#aa3259" stroke-width="1.1"/>
<line x1="82.2" y1="551.5" x2="87.8" y2="551.5" stroke="#aa3259" stroke-width="1.2"/>
<line x1="108.5" y1="545.7" x2="108.5" y2="561.5" stroke="#aa3259" stroke-width="1.1"/>
<line x1="105.8" y1="561.5" x2="111.39999999999999" y2="561.5" stroke="#aa3259" stroke-width="1.2"/>
<line x1="132.5" y1="534.7" x2="132.5" y2="516" stroke="#aa3259" stroke-width="1.1"/>
<line x1="129.4" y1="516.5" x2="135.00000000000003" y2="516.5" stroke="#aa3259" stroke-width="1.2"/>
<line x1="132.5" y1="534.7" x2="132.5" y2="554.1" stroke="#aa3259" stroke-width="1.1"/>
<line x1="129.4" y1="554.5" x2="135.00000000000003" y2="554.5" stroke="#aa3259" stroke-width="1.2"/>
<line x1="155.5" y1="535.1" x2="155.5" y2="514.6" stroke="#aa3259" stroke-width="1.1"/>
<line x1="153.0" y1="514.5" x2="158.60000000000002" y2="514.5" stroke="#aa3259" stroke-width="1.2"/>
<line x1="155.5" y1="535.1" x2="155.5" y2="556.3" stroke="#aa3259" stroke-width="1.1"/>
<line x1="153.0" y1="556.5" x2="158.60000000000002" y2="556.5" stroke="#aa3259" stroke-width="1.2"/>
<line x1="179.5" y1="536.6" x2="179.5" y2="520.9" stroke="#aa3259" stroke-width="1.1"/>
<line x1="176.6" y1="520.5" x2="182.20000000000002" y2="520.5" stroke="#aa3259" stroke-width="1.2"/>
<line x1="179.5" y1="536.6" x2="179.5" y2="552" stroke="#aa3259" stroke-width="1.1"/>
<line x1="176.6" y1="552.5" x2="182.20000000000002" y2="552.5" stroke="#aa3259" stroke-width="1.2"/>
<line x1="203.5" y1="529.5" x2="203.5" y2="506.9" stroke="#aa3259" stroke-width="1.1"/>
<line x1="200.20000000000002" y1="506.5" x2="205.80000000000004" y2="506.5" stroke="#aa3259" stroke-width="1.2"/>
<line x1="203.5" y1="529.5" x2="203.5" y2="551.4" stroke="#aa3259" stroke-width="1.1"/>
<line x1="200.20000000000002" y1="551.5" x2="205.80000000000004" y2="551.5" stroke="#aa3259" stroke-width="1.2"/>
<polyline points="61.4,531.7 85.0,529.7 108.6,545.7 132.2,534.7 155.8,535.1 179.4,536.6 203.0,529.5" fill="none" stroke="#aa3259" stroke-width="1.1"/>
<circle cx="61.4" cy="531.7" r="2.3" fill="#b01040"/>
<circle cx="85.0" cy="529.7" r="2.3" fill="#b01040"/>
<circle cx="108.6" cy="545.7" r="2.3" fill="#b01040"/>
<circle cx="132.2" cy="534.7" r="2.3" fill="#b01040"/>
<circle cx="155.8" cy="535.1" r="2.3" fill="#b01040"/>
<circle cx="179.4" cy="536.6" r="2.3" fill="#b01040"/>
<circle cx="203.0" cy="529.5" r="2.3" fill="#b01040"/>
<line x1="61.5" y1="502.8" x2="61.5" y2="479.5" stroke="#2e4d6c" stroke-width="1.1"/>
<line x1="58.6" y1="479.5" x2="64.2" y2="479.5" stroke="#2e4d6c" stroke-width="1.2"/>
<line x1="61.5" y1="502.8" x2="61.5" y2="526.4" stroke="#2e4d6c" stroke-width="1.1"/>
<line x1="58.6" y1="526.5" x2="64.2" y2="526.5" stroke="#2e4d6c" stroke-width="1.2"/>
<line x1="85.5" y1="500.2" x2="85.5" y2="475.2" stroke="#2e4d6c" stroke-width="1.1"/>
<line x1="82.2" y1="475.5" x2="87.8" y2="475.5" stroke="#2e4d6c" stroke-width="1.2"/>
<line x1="85.5" y1="500.2" x2="85.5" y2="525.4" stroke="#2e4d6c" stroke-width="1.1"/>
<line x1="82.2" y1="525.5" x2="87.8" y2="525.5" stroke="#2e4d6c" stroke-width="1.2"/>
<line x1="108.5" y1="539.3" x2="108.5" y2="529.8" stroke="#2e4d6c" stroke-width="1.1"/>
<line x1="105.8" y1="529.5" x2="111.39999999999999" y2="529.5" stroke="#2e4d6c" stroke-width="1.2"/>
<line x1="108.5" y1="539.3" x2="108.5" y2="548.9" stroke="#2e4d6c" stroke-width="1.1"/>
<line x1="105.8" y1="548.5" x2="111.39999999999999" y2="548.5" stroke="#2e4d6c" stroke-width="1.2"/>
<line x1="132.5" y1="534.7" x2="132.5" y2="520.7" stroke="#2e4d6c" stroke-width="1.1"/>
<line x1="129.4" y1="520.5" x2="135.00000000000003" y2="520.5" stroke="#2e4d6c" stroke-width="1.2"/>
<line x1="132.5" y1="534.7" x2="132.5" y2="549.3" stroke="#2e4d6c" stroke-width="1.1"/>
<line x1="129.4" y1="549.5" x2="135.00000000000003" y2="549.5" stroke="#2e4d6c" stroke-width="1.2"/>
<line x1="155.5" y1="528.8" x2="155.5" y2="508.7" stroke="#2e4d6c" stroke-width="1.1"/>
<line x1="153.0" y1="508.5" x2="158.60000000000002" y2="508.5" stroke="#2e4d6c" stroke-width="1.2"/>
<line x1="155.5" y1="528.8" x2="155.5" y2="549.3" stroke="#2e4d6c" stroke-width="1.1"/>
<line x1="153.0" y1="549.5" x2="158.60000000000002" y2="549.5" stroke="#2e4d6c" stroke-width="1.2"/>
<line x1="179.5" y1="529.8" x2="179.5" y2="516.7" stroke="#2e4d6c" stroke-width="1.1"/>
<line x1="176.6" y1="516.5" x2="182.20000000000002" y2="516.5" stroke="#2e4d6c" stroke-width="1.2"/>
<line x1="179.5" y1="529.8" x2="179.5" y2="543.1" stroke="#2e4d6c" stroke-width="1.1"/>
<line x1="176.6" y1="543.5" x2="182.20000000000002" y2="543.5" stroke="#2e4d6c" stroke-width="1.2"/>
<line x1="203.5" y1="503.3" x2="203.5" y2="468.8" stroke="#2e4d6c" stroke-width="1.1"/>
<line x1="200.20000000000002" y1="468.5" x2="205.80000000000004" y2="468.5" stroke="#2e4d6c" stroke-width="1.2"/>
<line x1="203.5" y1="503.3" x2="203.5" y2="538.5" stroke="#2e4d6c" stroke-width="1.1"/>
<line x1="200.20000000000002" y1="538.5" x2="205.80000000000004" y2="538.5" stroke="#2e4d6c" stroke-width="1.2"/>
<polyline points="61.4,502.8 85.0,500.2 108.6,539.3 132.2,534.7 155.8,528.8 179.4,529.8 203.0,503.3" fill="none" stroke="#2e4d6c" stroke-width="1.1"/>
<rect x="59.20" y="500.60" width="4.40" height="4.40" fill="#1d4a78"/>
<rect x="82.80" y="498.00" width="4.40" height="4.40" fill="#1d4a78"/>
<rect x="106.40" y="537.10" width="4.40" height="4.40" fill="#1d4a78"/>
<rect x="130.00" y="532.50" width="4.40" height="4.40" fill="#1d4a78"/>
<rect x="153.60" y="526.60" width="4.40" height="4.40" fill="#1d4a78"/>
<rect x="177.20" y="527.60" width="4.40" height="4.40" fill="#1d4a78"/>
<rect x="200.80" y="501.10" width="4.40" height="4.40" fill="#1d4a78"/>
<line x1="101.6" y1="453.5" x2="116" y2="453.5" stroke="#aa3259" stroke-width="1.2"/>
<circle cx="108.8" cy="453.9" r="2.1" fill="#b01040"/>
<text x="119" y="457.3" font-size="8.4" text-anchor="start" fill="#262626" textLength="65.2" lengthAdjust="spacingAndGlyphs" >Deep responders</text>
<line x1="101.6" y1="465.5" x2="116" y2="465.5" stroke="#2e4d6c" stroke-width="1.2"/>
<rect x="106.80" y="463.00" width="4.00" height="4.00" fill="#1d4a78"/>
<text x="119" y="467.5" font-size="8.4" text-anchor="start" fill="#262626" textLength="26.2" lengthAdjust="spacingAndGlyphs" >Others</text>
<text x="301.4" y="439.9" font-size="10.1" text-anchor="start" fill="#262626" textLength="140" lengthAdjust="spacingAndGlyphs" >CD8+ HLA-DR- PD-1+ TEMRA</text>
<line x1="287.5" y1="452.8" x2="287.5" y2="567.7" stroke="#1a1a1a" stroke-width="1.3"/>
<line x1="287" y1="567.5" x2="455" y2="567.5" stroke="#1a1a1a" stroke-width="1.3"/>
<line x1="284.5" y1="567.5" x2="287.5" y2="567.5" stroke="#1a1a1a" stroke-width="1"/>
<text x="281.1" y="569.8" font-size="8.9" text-anchor="end" fill="#262626" textLength="4.55" lengthAdjust="spacingAndGlyphs">0</text>
<line x1="284.5" y1="544.5" x2="287.5" y2="544.5" stroke="#1a1a1a" stroke-width="1"/>
<text x="281.1" y="547.54" font-size="8.9" text-anchor="end" fill="#262626" textLength="9.10" lengthAdjust="spacingAndGlyphs">20</text>
<line x1="284.5" y1="522.5" x2="287.5" y2="522.5" stroke="#1a1a1a" stroke-width="1"/>
<text x="281.1" y="525.28" font-size="8.9" text-anchor="end" fill="#262626" textLength="9.10" lengthAdjust="spacingAndGlyphs">40</text>
<line x1="284.5" y1="500.5" x2="287.5" y2="500.5" stroke="#1a1a1a" stroke-width="1"/>
<text x="281.1" y="503.02000000000004" font-size="8.9" text-anchor="end" fill="#262626" textLength="9.10" lengthAdjust="spacingAndGlyphs">60</text>
<line x1="284.5" y1="477.5" x2="287.5" y2="477.5" stroke="#1a1a1a" stroke-width="1"/>
<text x="281.1" y="480.76" font-size="8.9" text-anchor="end" fill="#262626" textLength="9.10" lengthAdjust="spacingAndGlyphs">80</text>
<line x1="284.5" y1="455.5" x2="287.5" y2="455.5" stroke="#1a1a1a" stroke-width="1"/>
<text x="281.1" y="458.5" font-size="8.9" text-anchor="end" fill="#262626" textLength="13.00" lengthAdjust="spacingAndGlyphs">100</text>
<text font-size="10.4" text-anchor="middle" fill="#262626" transform="translate(252.4,508.7) rotate(-90)" textLength="68.5" lengthAdjust="spacingAndGlyphs">%HLA-DR- PD-1+/</text>
<text font-size="10.4" text-anchor="middle" fill="#262626" transform="translate(262.9,509.2) rotate(-90)" textLength="69.5" lengthAdjust="spacingAndGlyphs">CD8+ TEMRA T cells</text>
<line x1="329.5" y1="567.1" x2="329.5" y2="569.8" stroke="#1a1a1a" stroke-width="1"/>
<line x1="412.5" y1="567.1" x2="412.5" y2="569.8" stroke="#1a1a1a" stroke-width="1"/>
<text x="329" y="580.6" font-size="8.4" text-anchor="middle" fill="#262626" textLength="64.7" lengthAdjust="spacingAndGlyphs" >Deep responders</text>
<text x="413.1" y="580.6" font-size="8.4" text-anchor="middle" fill="#262626" textLength="26" lengthAdjust="spacingAndGlyphs" >Others</text>
<text x="371.2" y="469.5" font-size="8" textLength="31.4" lengthAdjust="spacingAndGlyphs" text-anchor="middle" fill="#262626"><tspan font-style="italic">P</tspan> = .026</text>
<path d="M329.1,481 V474.8 H412.9 V481" fill="none" stroke="#333" stroke-width="1"/>
<line x1="301" y1="537.5" x2="356.9" y2="537.5" stroke="#e3a048" stroke-width="1.1"/>
<line x1="315.2" y1="519.5" x2="343" y2="519.5" stroke="#e3a048" stroke-width="1.1"/>
<line x1="315.2" y1="554.5" x2="343" y2="554.5" stroke="#e3a048" stroke-width="1.1"/>
<line x1="329.5" y1="519.6" x2="329.5" y2="554.2" stroke="#e3a048" stroke-width="1.1"/>
<circle cx="329.1" cy="500.1" r="2" fill="#e3922a"/>
<circle cx="315.2" cy="519.6" r="2" fill="#e3922a"/>
<circle cx="333.6" cy="517.6" r="2" fill="#e3922a"/>
<circle cx="342.5" cy="521.6" r="2" fill="#e3922a"/>
<circle cx="324.6" cy="523.7" r="2" fill="#e3922a"/>
<circle cx="324.6" cy="539.4" r="2" fill="#e3922a"/>
<circle cx="333.6" cy="539.1" r="2" fill="#e3922a"/>
<circle cx="315.2" cy="544.8" r="2" fill="#e3922a"/>
<circle cx="324.6" cy="548.6" r="2" fill="#e3922a"/>
<circle cx="333.6" cy="545.5" r="2" fill="#e3922a"/>
<circle cx="342.5" cy="545.9" r="2" fill="#e3922a"/>
<circle cx="320.2" cy="557.3" r="2" fill="#e3922a"/>
<circle cx="329.1" cy="555.2" r="2" fill="#e3922a"/>
<circle cx="338.1" cy="556.6" r="2" fill="#e3922a"/>
<line x1="384.4" y1="513.5" x2="440" y2="513.5" stroke="#e3a048" stroke-width="1.1"/>
<line x1="399.1" y1="492.5" x2="427.6" y2="492.5" stroke="#e3a048" stroke-width="1.1"/>
<line x1="399.1" y1="533.5" x2="427.6" y2="533.5" stroke="#e3a048" stroke-width="1.1"/>
<line x1="412.5" y1="492.4" x2="412.5" y2="533.7" stroke="#e3a048" stroke-width="1.1"/>
<rect x="410.70" y="485.70" width="4.40" height="4.40" fill="#e3922a"/>
<rect x="410.70" y="500.00" width="4.40" height="4.40" fill="#e3922a"/>
<rect x="410.70" y="505.90" width="4.40" height="4.40" fill="#e3922a"/>
<rect x="405.80" y="511.20" width="4.40" height="4.40" fill="#e3922a"/>
<rect x="415.20" y="513.20" width="4.40" height="4.40" fill="#e3922a"/>
<rect x="410.70" y="547.60" width="4.40" height="4.40" fill="#e3922a"/>
<rect x="0.5" y="0.5" width="519" height="609" fill="none" stroke="#444" stroke-width="1"/>
</svg>
</body></html>
